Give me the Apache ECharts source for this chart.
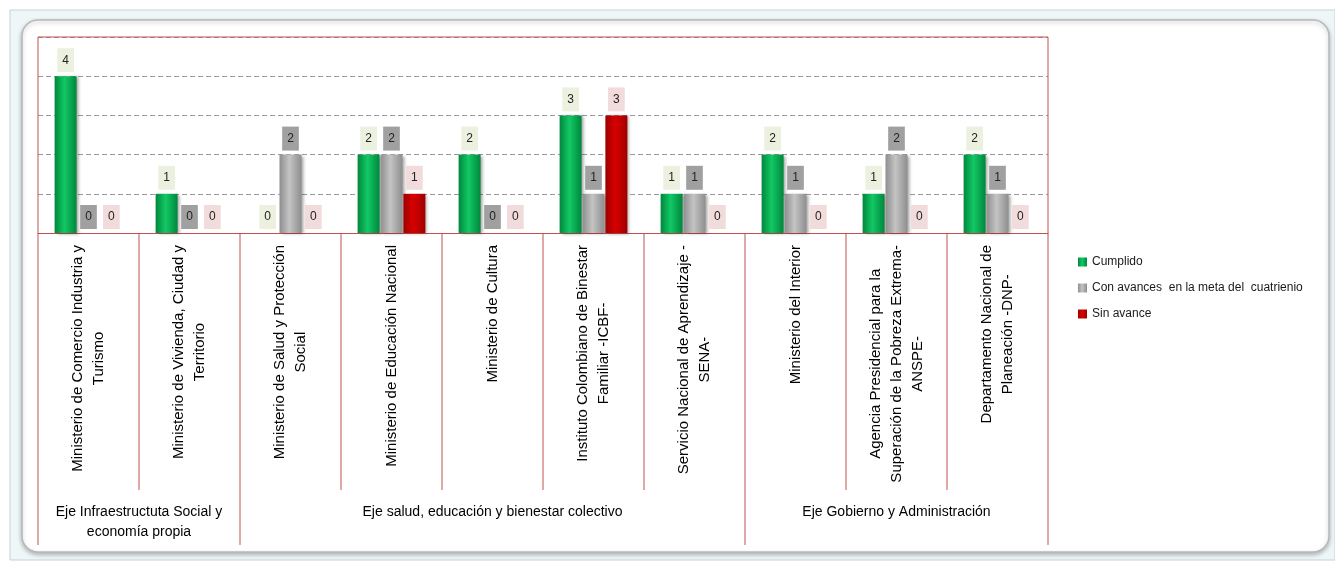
<!DOCTYPE html>
<html>
<head>
<meta charset="utf-8">
<script src="https://cdn.jsdelivr.net/npm/echarts@6/dist/echarts.min.js"></script>
<style>
  html, body { margin: 0; padding: 0; background: #fff; }
  #main { width: 1335px; height: 562px; }
</style>
</head>
<body>
<div id="main"></div>
<script>
// entidades (eje x)
const categories = [
  "Ministerio de Comercio Industria y\nTurismo",
  "Ministerio de Vivienda, Ciudad y\nTerritorio",
  "Ministerio de Salud y Protección\nSocial",
  "Ministerio de Educación Nacional",
  "Ministerio de Cultura",
  "Instituto Colombiano de Binestar\nFamiliar -ICBF-",
  "Servicio Nacional de Aprendizaje -\nSENA-",
  "Ministerio del Interior",
  "Agencia Presidencial para la\nSuperación de la Pobreza Extrema-\nANSPE-",
  "Departamento Nacional de\nPlaneación -DNP-"
];
const cumplido   = [4, 1, 0, 2, 2, 3, 1, 2, 1, 2];
const conAvances = [0, 0, 2, 2, 0, 1, 1, 1, 2, 1];
const sinAvance  = [0, 0, 0, 1, 0, 3, 0, 0, 0, 0];

// ejes (agrupacion de categorias)
const groupNames = [
  "Eje Infraestructuta Social y\neconomía propia",
  "Eje salud, educación y bienestar colectivo",
  "Eje Gobierno y Administración"
];
const groupSizes = [2, 5, 3];

const FONT = '"Liberation Sans Narrow", "Liberation Sans", Arial, sans-serif';
const RED_LINE = '#c0504d';

function barSeries(name, data, edge, mid, labelBg) {
  return {
    name: name,
    type: 'bar',
    data: data,
    barWidth: 22,
    barGap: '4%',
    itemStyle: {
      color: new echarts.graphic.LinearGradient(0, 0, 1, 0, [
        { offset: 0, color: edge },
        { offset: 0.45, color: mid },
        { offset: 1, color: edge }
      ]),
      shadowColor: 'rgba(0,0,0,0.35)',
      shadowBlur: 3,
      shadowOffsetX: 2,
      shadowOffsetY: 1
    },
    label: {
      show: true,
      position: 'top',
      distance: 4,
      color: '#222',
      fontSize: 12,
      fontFamily: FONT,
      backgroundColor: labelBg,
      padding: [5, 5],
      lineHeight: 14
    }
  };
}

var chart = echarts.init(document.getElementById('main'), null, { renderer: 'canvas' });

chart.setOption({
  animation: false,
  grid: { left: 38, top: 37, width: 1010, height: 196 },
  legend: {
    orient: 'vertical',
    left: 1073,
    top: 251,
    itemWidth: 9,
    itemHeight: 9,
    itemGap: 14,
    icon: 'rect',
    textStyle: { fontFamily: FONT, fontSize: 12, color: '#1a1a1a' },
    data: ['Cumplido', 'Con avances  en la meta del  cuatrienio', 'Sin avance']
  },
  xAxis: {
    type: 'category',
    data: categories,
    axisLine: { lineStyle: { color: RED_LINE, width: 1 } },
    axisTick: { show: false },
    axisLabel: {
      rotate: 90,
      margin: 12,
      interval: 0,
      formatter: function (v) {
        return v.split('\n').map(function (s) { return '{c|' + s + '}'; }).join('\n');
      },
      rich: {
        c: { align: 'center', fontFamily: FONT, fontSize: 15, lineHeight: 21, color: '#000' }
      }
    }
  },
  yAxis: {
    type: 'value',
    min: 0,
    max: 5,
    interval: 1,
    axisLabel: { show: false },
    axisLine: { show: false },
    axisTick: { show: false },
    splitLine: { lineStyle: { color: '#9a9a9a', type: [5, 3], width: 1 } }
  },
  series: [
    barSeries('Cumplido', cumplido, '#00873c', '#12c865', '#ebf1de'),
    barSeries('Con avances  en la meta del  cuatrienio', conAvances, '#8e8e8e', '#c4c4c4', '#a0a0a0'),
    barSeries('Sin avance', sinAvance, '#9e0000', '#d80000', '#f2dcdb')
  ]
});

// marco, separadores de categorias / grupos y titulos de ejes
var c0 = chart.convertToPixel({ xAxisIndex: 0 }, 0);
var c1 = chart.convertToPixel({ xAxisIndex: 0 }, 1);
var band = c1 - c0;
var left = c0 - band / 2;
var right = left + band * categories.length;
var yTop = chart.convertToPixel({ yAxisIndex: 0 }, 5);
var yBase = chart.convertToPixel({ yAxisIndex: 0 }, 0);
var yTick = 490;
var yBottom = 545;

function redLine(x1, y1, x2, y2) {
  return { type: 'line', z: 100, shape: { x1: x1, y1: y1, x2: x2, y2: y2 },
    style: { stroke: RED_LINE, lineWidth: 1 } };
}

var graphics = [
  { type: 'rect', z: -20, shape: { x: 10, y: 10, width: 1325, height: 550 },
    style: { fill: '#eef6f8', stroke: '#c4d2d8', lineWidth: 1 } },
  { type: 'rect', z: -19, shape: { x: 22, y: 20, width: 1307, height: 532, r: 16 },
    style: { fill: '#fff', stroke: '#b8b8b8', lineWidth: 1.5, shadowColor: 'rgba(0,0,0,0.25)', shadowBlur: 4, shadowOffsetY: 2 } },
  redLine(left, yTop, right, yTop),
  redLine(left, yTop, left, yBottom),
  redLine(right, yTop, right, yBottom)
];

// separadores entre categorias
for (var k = 1; k < categories.length; k++) {
  graphics.push(redLine(left + k * band, yBase, left + k * band, yTick));
}

var start = 0;
groupSizes.forEach(function (n, i) {
  var gx0 = left + start * band;
  var gx1 = left + (start + n) * band;
  if (start > 0) graphics.push(redLine(gx0, yTick, gx0, yBottom));
  graphics.push({
    type: 'text', z: 100,
    style: {
      x: (gx0 + gx1) / 2, y: 502,
      text: groupNames[i],
      align: 'center', verticalAlign: 'top',
      font: '14px ' + FONT, lineHeight: 20, fill: '#000'
    }
  });
  start += n;
});

chart.setOption({ graphic: graphics });
</script>
</body>
</html>
